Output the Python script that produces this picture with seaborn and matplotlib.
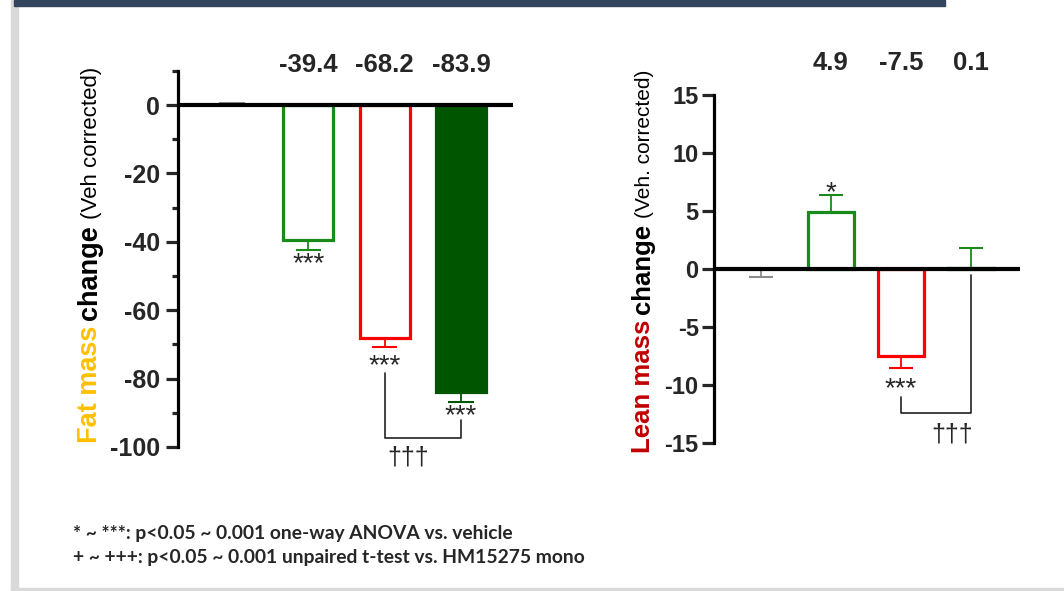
import numpy as np
import pandas as pd
import matplotlib
matplotlib.use('Agg')
import matplotlib.pyplot as plt
import matplotlib.transforms as mtransforms
from matplotlib.patches import Rectangle
import seaborn as sns

# Data (Veh corrected)
groups = ['Vehicle', 'HM15275 mono', 'Comparator', 'Combination']
fat_change = [0.0, -39.4, -68.2, -83.9]
fat_err = [0.7, -2.9, -2.6, -2.9]          # one-sided, signed (direction of the bar)
lean_change = [0.0, 4.9, -7.5, 0.1]
lean_err = [-0.65, 1.5, -1.0, 1.7]

fat_labels = ['', '-39.4', '-68.2', '-83.9']
lean_labels = ['', '4.9', '-7.5', '0.1']

GREY = '#8c8c8c'
GREEN = '#1a8a1a'
RED = '#ff0000'
DKGREEN = '#005500'

fat_edge = [GREY, GREEN, RED, DKGREEN]
fat_fill = [False, False, False, True]
lean_edge = [GREY, GREEN, RED, DKGREEN]
lean_err_col = [GREY, GREEN, RED, GREEN]
lean_fill = [False, False, False, True]

sns.set_style('white')
plt.rcParams['font.family'] = ['Liberation Sans', 'DejaVu Sans']
plt.rcParams['axes.unicode_minus'] = False

W, H = 1064, 591
fig = plt.figure(figsize=(W / 100, H / 100), dpi=100)


def px_box(left, top, right, bottom):
    return [left / W, 1 - bottom / H, (right - left) / W, (bottom - top) / H]


ax1 = fig.add_axes(px_box(178, 70.8, 513, 447))
ax2 = fig.add_axes(px_box(714, 95, 1020, 443))


def draw_panel(ax, values, errs, edges, fills, errcols, width):
    df = pd.DataFrame({'group': groups, 'value': values})
    sns.barplot(data=df, x='group', y='value', hue='group', palette=edges,
                order=groups, hue_order=groups, legend=False, width=width,
                ax=ax, errorbar=None, zorder=2)
    for i, p in enumerate(ax.patches):
        if i == 0:
            p.set_facecolor('none')
            p.set_edgecolor('none')
            continue
        p.set_facecolor(edges[i] if fills[i] else 'white')
        p.set_edgecolor(edges[i])
        p.set_linewidth(2.3)
    # one-sided error bars
    for i, (v, e) in enumerate(zip(values, errs)):
        tip = v + e
        ax.vlines(i, v, tip, color=errcols[i], lw=1.3, zorder=1)
        ax.hlines(tip, i - 0.165, i + 0.165, color=errcols[i], lw=1.5, zorder=3)
    ax.axhline(0, color='black', lw=3, zorder=4)
    for s in ['top', 'right', 'bottom']:
        ax.spines[s].set_visible(False)
    ax.spines['left'].set_linewidth(2.3)
    ax.spines['left'].set_color('black')
    ax.set_xticks([])
    ax.set_xlabel('')
    ax.set_ylabel('')


draw_panel(ax1, fat_change, fat_err, fat_edge, fat_fill, fat_edge, 0.655)
draw_panel(ax2, lean_change, lean_err, lean_edge, lean_fill, lean_err_col, 0.657)

# left panel axes
ax1.set_xlim(-0.708, 3.68)
ax1.set_ylim(-100, 10)
ax1.set_yticks(np.arange(-100, 1, 20))
ax1.set_yticks(np.arange(-90, 11, 20), minor=True)
ax1.tick_params(axis='y', which='major', length=9, width=2.3, pad=4, labelsize=18, left=True)
ax1.tick_params(axis='y', which='minor', length=4.5, width=2.3, left=True)
for t in ax1.get_yticklabels():
    t.set_fontweight('bold')

# right panel axes
ax2.set_xlim(-0.671, 3.7)
ax2.set_ylim(-15, 15)
ax2.set_yticks(np.arange(-15, 16, 5))
ax2.tick_params(axis='y', which='major', length=9, width=2.3, pad=2, labelsize=17, left=True)
for t in ax2.get_yticklabels():
    t.set_fontweight('bold')

# value labels above the panels
tr1 = mtransforms.blended_transform_factory(ax1.transData, ax1.transAxes)
for i, lab in enumerate(fat_labels):
    ax1.text(i, 1.0154, lab, transform=tr1, ha='center', va='center',
             fontsize=18.5, fontweight='bold', clip_on=False)
tr2 = mtransforms.blended_transform_factory(ax2.transData, ax2.transAxes)
for i, lab in enumerate(lean_labels):
    ax2.text(i, 1.092, lab, transform=tr2, ha='center', va='center',
             fontsize=18.5, fontweight='bold', clip_on=False)

# significance marks - left
for i, yv in [(1, -46.5), (2, -76.4), (3, -91.0)]:
    ax1.text(i, yv, '***', ha='center', va='center', fontsize=20, clip_on=False)
ax1.plot([2, 2, 3, 3], [-78.4, -97.4, -97.4, -92.1], color='#222222', lw=1.2, clip_on=False)
ax1.text(2.31, -103, '\u2020\u2020\u2020', ha='center', va='center', fontsize=18, clip_on=False)

# significance marks - right
ax2.text(1, 6.5, '*', ha='center', va='center', fontsize=20, clip_on=False)
ax2.text(2, -10.4, '***', ha='center', va='center', fontsize=20, clip_on=False)
ax2.plot([2, 2, 3, 3], [-11.0, -12.4, -12.4, -0.5], color='#222222', lw=1.2, clip_on=False)
ax2.text(2.73, -14.3, '\u2020\u2020\u2020', ha='center', va='center', fontsize=18, clip_on=False)


# multi-colour rotated y labels
def stacked_label(x_px, y_px, parts):
    r = fig.canvas.get_renderer()
    y = y_px
    for txt, color, size, weight in parts:
        t = fig.text(x_px / W, 1 - y / H, txt, rotation=90, rotation_mode='anchor',
                     ha='left', va='baseline', color=color, fontsize=size,
                     fontweight=weight)
        bb = t.get_window_extent(r)
        y -= bb.height + size * 0.3


stacked_label(97, 443, [('Fat mass', '#ffc000', 19.5, 'bold'),
                        ('change', 'black', 19.5, 'bold'),
                        ('(Veh corrected)', 'black', 16, 'normal')])
stacked_label(650, 453, [('Lean mass', '#c00000', 18.5, 'bold'),
                         ('change', 'black', 18.5, 'bold'),
                         ('(Veh. corrected)', 'black', 15, 'normal')])

# footnotes
fig.text(73 / W, 1 - 533 / H, '* ~ ***: p<0.05 ~ 0.001 one-way ANOVA vs. vehicle',
         ha='left', va='center', fontsize=13.9, fontweight='bold', family=['Lato', 'DejaVu Sans'])
fig.text(73 / W, 1 - 558 / H, '+ ~ +++: p<0.05 ~ 0.001 unpaired t-test vs. HM15275 mono',
         ha='left', va='center', fontsize=13.9, fontweight='bold', family=['Lato', 'DejaVu Sans'])

# slide frame decorations
fig.patches.append(Rectangle((11 / W, 0), 7 / W, 1, transform=fig.transFigure,
                             color='#d9d9d9', zorder=0))
fig.patches.append(Rectangle((11 / W, 0), 1 - 11 / W, 3 / H, transform=fig.transFigure,
                             color='#d9d9d9', zorder=0))
fig.patches.append(Rectangle((14 / W, 1 - 6 / H), (945 - 14) / W, 6 / H,
                             transform=fig.transFigure, color='#33445e', zorder=0))

fig.savefig('out.png', dpi=100)
plt.close(fig)
